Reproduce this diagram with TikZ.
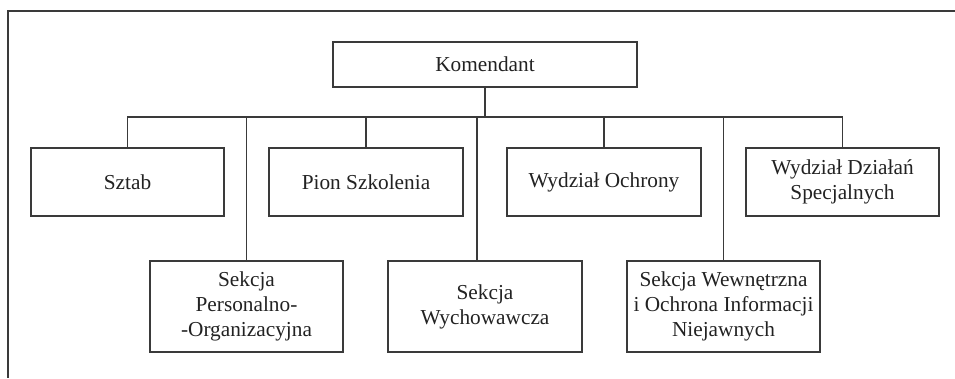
\documentclass[tikz,border=0pt]{standalone}
\usepackage{fontspec}
\setmainfont{Liberation Serif}
\definecolor{ln}{HTML}{3A3A3A}
\definecolor{tx}{HTML}{222222}
\begin{document}
\begin{tikzpicture}[x=1pt,y=-1pt,
  box/.style={draw=ln,line width=1.1pt,rectangle,inner sep=0pt,align=center,
    text=tx,font=\fontsize{21.3}{25}\selectfont},
  conn/.style={draw=ln,line width=1.1pt}]
\useasboundingbox (0,0) rectangle (955,378);
\draw[conn] (955,11) -- (8,11) -- (8,378);
\node[box,minimum width=304pt,minimum height=45pt] (kom) at (485,64.5) {Komendant};
\node[box,minimum width=193pt,minimum height=68pt] (sztab) at (127.5,182) {Sztab};
\node[box,minimum width=194pt,minimum height=68pt] (pion) at (366,182) {Pion Szkolenia};
\node[box,minimum width=194pt,minimum height=68pt] (ochr) at (604,182) {Wydział Ochrony};
\node[box,minimum width=193pt,minimum height=68pt] (wds) at (842.5,182) {Wydział Działań\\Specjalnych};
\node[box,minimum width=193pt,minimum height=91pt] (sper) at (246.5,306.5) {Sekcja\\Personalno-\\-Organizacyjna};
\node[box,minimum width=194pt,minimum height=91pt] (swych) at (485,306.5) {Sekcja\\Wychowawcza};
\node[box,minimum width=193pt,minimum height=91pt] (swew) at (723.5,306.5) {Sekcja Wewnętrzna\\i Ochrona Informacji\\Niejawnych};
\coordinate (bus) at (0,117);
\coordinate (wj) at (477,117);
\draw[conn] (sztab.north) -- (sztab.north |- bus) -- (wds.north |- bus) -- (wds.north);
\draw[conn] (kom.south) -- (kom.south |- bus);
\draw[conn] (pion.north) -- (pion.north |- bus);
\draw[conn] (ochr.north) -- (ochr.north |- bus);
\draw[conn] (sper.north) -- (sper.north |- bus);
\draw[conn] (swew.north) -- (swew.north |- bus);
\draw[conn] (wj) -- (wj |- swych.north);
\end{tikzpicture}
\end{document}
